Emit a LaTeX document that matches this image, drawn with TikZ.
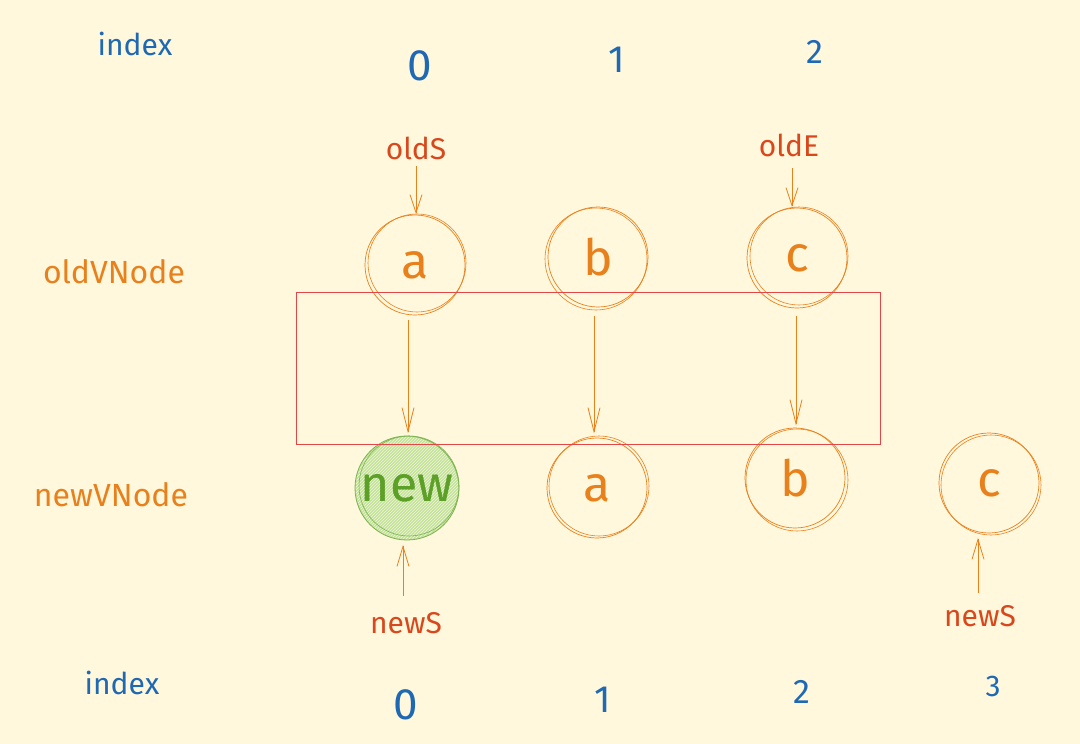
\documentclass[tikz,border=0pt]{standalone}
\usepackage{fontspec}
\setmainfont{Fira Sans}
\usetikzlibrary{arrows.meta,patterns}
\definecolor{bg}{RGB}{255,248,220}
\definecolor{orng}{RGB}{232,128,28}
\definecolor{redo}{RGB}{216,72,28}
\definecolor{blu}{RGB}{30,104,180}
\definecolor{grn}{RGB}{92,160,40}
\definecolor{grnfill}{RGB}{196,226,150}
\definecolor{boxred}{RGB}{226,70,70}
\tikzset{
  lbl/.style={font=\fontsize{32}{34}\selectfont, text=orng},
  idx/.style={font=\fontsize{30}{32}\selectfont, text=blu},
  dig/.style={font=\fontsize{38}{40}\selectfont, text=blu},
  ptr/.style={font=\fontsize{30}{32}\selectfont, text=redo},
  vnode/.style={circle, draw=orng, line width=0.7pt, minimum size=100pt, inner sep=0pt,
    font=\fontsize{50}{52}\selectfont, text=orng},
  sketch/.style={draw=orng, line width=0.6pt},
  newnode/.style={circle, draw=grn!80!white, line width=0.8pt, minimum size=104pt, inner sep=0pt,
    fill=grnfill, font=\fontsize{50}{52}\selectfont, text=grn},
  arr/.style={draw=orng, line width=0.8pt},
  headline/.style={draw=orng, line width=0.8pt, line join=miter},
}
\newcommand\vhead[2]{\draw[headline] (#1) ++(-6,#2) -- (#1) -- ++(6,#2);}
\begin{document}
\begin{tikzpicture}[x=1pt,y=-1pt]
\fill[bg] (0,0) rectangle (1080,744);
\useasboundingbox (0,0) rectangle (1080,744);

% top index row
\node[idx] (ti) at (135,44) {index};
\node[dig, font=\fontsize{44}{46}\selectfont] (t0) at (420,66) {0};
\node[dig] (t1) at (617,60) {1};
\node[dig, font=\fontsize{34}{36}\selectfont] (t2) at (815,52) {2};

% row labels
\node[lbl] (oldlbl) at (114,272) {oldVNode};
\node[lbl] (newlbl) at (111,495) {newVNode};

% old vnodes
\node[vnode] (oa) at (415,265) {a};
\node[vnode] (ob) at (598,257) {b};
\node[vnode] (oc) at (797,258) {c};
\draw[sketch] (417,263) circle (49pt);
\draw[sketch] (596,259) circle (51pt);
\draw[sketch] (799,256) circle (49pt);

% pointers old
\node[ptr] (olds) at (416,148) {oldS};
\node[ptr] (olde) at (789,145) {oldE};
\coordinate (s1) at (416,166);
\coordinate (s2) at (792,168);
\path (s1 |- oa.north) ++(0,-2) coordinate (e1);
\path (s2 |- oc.north) ++(0,-2) coordinate (e2);
\draw[arr] (s1) -- (e1);
\draw[arr] (s2) -- (e2);
\vhead{e1}{-18}
\vhead{e2}{-18}

% new vnodes
\node[newnode] (nn) at (407,488) {new};
\fill[pattern=north east lines, pattern color=white!70!grnfill] (407,488) circle (51pt);
\node[font=\fontsize{50}{52}\selectfont, text=grn] at (407,488) {new};
\draw[draw=grn!80!white, line width=0.6pt] (409,486) circle (50pt);
\node[vnode] (na) at (597,488) {a};
\node[vnode] (nb) at (795,478) {b};
\node[vnode] (nc) at (989,483) {c};
\draw[sketch] (599,486) circle (50pt);
\draw[sketch] (797,480) circle (51pt);
\draw[sketch] (991,485) circle (50pt);

% red box
\node[draw=boxred, line width=0.9pt, minimum width=584pt, minimum height=152pt, inner sep=0pt] (box) at (588,368) {};

% mapping arrows
\coordinate (m1) at (408,320);
\coordinate (m2) at (594,316);
\coordinate (m3) at (796,316);
\path (m1 |- nn.north) ++(0,-4) coordinate (f1);
\path (m2 |- na.north) ++(0,-6) coordinate (f2);
\path (m3 |- nb.north) ++(0,-4) coordinate (f3);
\draw[arr] (m1) -- (f1);
\draw[arr] (m2) -- (f2);
\draw[arr] (m3) -- (f3);
\vhead{f1}{-24}
\vhead{f2}{-24}
\vhead{f3}{-24}

% new pointers
\node[ptr] (ns1) at (406,623) {newS};
\node[ptr] (ns2) at (980,616) {newS};
\coordinate (p1) at (403,596);
\coordinate (p2) at (978,593);
\path (p1 |- nn.south) ++(0,6) coordinate (g1);
\path (p2 |- nc.south) ++(0,6) coordinate (g2);
\draw[arr] (p1) -- (g1);
\draw[arr] (p2) -- (g2);
\vhead{g1}{20}
\vhead{g2}{20}

% bottom index row
\node[idx] (bi) at (122,683) {index};
\node[dig, font=\fontsize{44}{46}\selectfont] (b0) at (406,705) {0};
\node[dig] (b1) at (603,700) {1};
\node[dig, font=\fontsize{34}{36}\selectfont] (b2) at (802,692) {2};
\node[dig, font=\fontsize{30}{32}\selectfont] (b3) at (993,686) {3};
\end{tikzpicture}
\end{document}
